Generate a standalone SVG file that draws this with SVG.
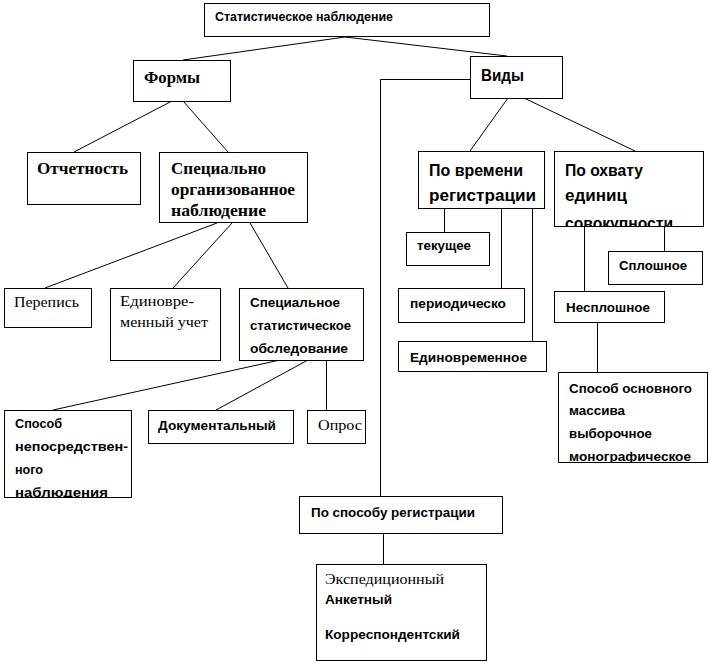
<svg xmlns="http://www.w3.org/2000/svg" width="709" height="663" viewBox="0 0 709 663">
<style>
.b{fill:#fff;stroke:#000;stroke-width:1}
.c line,.c polyline{stroke:#000;stroke-width:1;fill:none}
text{fill:#000}
.s{font-family:"Liberation Sans",Arial,sans-serif;font-weight:bold;font-size:12px}
.r{font-family:"Liberation Serif","Times New Roman",serif;font-size:15px}
.rb{font-family:"Liberation Serif","Times New Roman",serif;font-weight:bold;font-size:16px}
</style>
<defs>
<clipPath id="cl1"><rect x="554" y="151" width="149" height="75"/></clipPath>
<clipPath id="cl2"><rect x="4" y="410" width="127" height="87"/></clipPath>
<clipPath id="cl3"><rect x="558" y="372" width="149" height="90"/></clipPath>
</defs>
<rect width="709" height="663" fill="#fff"/>
<g class="c" id="connectors">
<polyline points="183,60 345,37 507,56"/>
<polyline points="470.5,79.5 380.5,79.5 380.5,496"/>
<line x1="172" y1="101" x2="74" y2="152"/>
<line x1="183" y1="101" x2="228" y2="152"/>
<line x1="217" y1="223" x2="45" y2="288"/>
<line x1="232" y1="223" x2="173" y2="288"/>
<line x1="250" y1="223" x2="288" y2="288"/>
<line x1="280" y1="360" x2="53" y2="410"/>
<line x1="308" y1="360" x2="216" y2="410"/>
<line x1="326.5" y1="360" x2="326.5" y2="410"/>
<line x1="508" y1="98" x2="470" y2="151"/>
<line x1="524" y1="98" x2="635" y2="151"/>
<line x1="444.5" y1="208" x2="444.5" y2="232"/>
<line x1="501.5" y1="208" x2="501.5" y2="288"/>
<line x1="532.5" y1="208" x2="532.5" y2="344"/>
<line x1="584.5" y1="226" x2="584.5" y2="291"/>
<line x1="664.5" y1="226" x2="664.5" y2="251"/>
<line x1="597.5" y1="322" x2="597.5" y2="372"/>
<line x1="383.5" y1="534" x2="383.5" y2="564"/>
</g>
<g id="n-root"><rect class="b" x="204.5" y="3.5" width="285" height="33"/><text class="s" x="215" y="21" textLength="178" lengthAdjust="spacingAndGlyphs">Статистическое наблюдение</text></g>
<g id="n-formy"><rect class="b" x="133.5" y="60.5" width="97" height="41"/><text class="rb" x="144" y="83" style="font-size:17px" textLength="56" lengthAdjust="spacingAndGlyphs">Формы</text></g>
<g id="n-vidy"><rect class="b" x="470.5" y="56.5" width="92" height="42"/><text class="s" x="481" y="81" style="font-size:17px" textLength="43" lengthAdjust="spacingAndGlyphs">Виды</text></g>
<g id="n-otch"><rect class="b" x="27.5" y="152.5" width="113" height="52"/><text class="rb" x="37" y="174" textLength="91" lengthAdjust="spacingAndGlyphs">Отчетность</text></g>
<g id="n-spec"><rect class="b" x="159.5" y="152.5" width="148" height="70"/>
<text class="rb" x="171" y="174" textLength="95" lengthAdjust="spacingAndGlyphs">Специально</text>
<text class="rb" x="171" y="195" textLength="124" lengthAdjust="spacingAndGlyphs">организованное</text>
<text class="rb" x="171" y="216" textLength="95" lengthAdjust="spacingAndGlyphs">наблюдение</text></g>
<g id="n-perepis"><rect class="b" x="4.5" y="288.5" width="87" height="39"/><text class="r" x="14" y="307" textLength="65" lengthAdjust="spacingAndGlyphs">Перепись</text></g>
<g id="n-edinuch"><rect class="b" x="110.5" y="288.5" width="110" height="72"/>
<text class="r" x="120" y="306" textLength="74" lengthAdjust="spacingAndGlyphs">Единовре-</text>
<text class="r" x="120" y="327" textLength="88" lengthAdjust="spacingAndGlyphs">менный учет</text></g>
<g id="n-sso"><rect class="b" x="239.5" y="288.5" width="124" height="72"/>
<text class="s" x="250" y="307" style="font-size:13px" textLength="90" lengthAdjust="spacingAndGlyphs">Специальное</text>
<text class="s" x="250" y="330" style="font-size:13px" textLength="101" lengthAdjust="spacingAndGlyphs">статистическое</text>
<text class="s" x="250" y="353" style="font-size:13px" textLength="98" lengthAdjust="spacingAndGlyphs">обследование</text></g>
<g id="n-sposnep"><rect class="b" x="4.5" y="410.5" width="127" height="87"/>
<g clip-path="url(#cl2)">
<text class="s" x="15" y="428" style="font-size:13px" textLength="47" lengthAdjust="spacingAndGlyphs">Способ</text>
<text class="s" x="15" y="451" style="font-size:13px" textLength="113" lengthAdjust="spacingAndGlyphs">непосредствен-</text>
<text class="s" x="15" y="474" style="font-size:13px" textLength="28" lengthAdjust="spacingAndGlyphs">ного</text>
<text class="s" x="15" y="497" style="font-size:13px" textLength="93" lengthAdjust="spacingAndGlyphs">наблюдения</text></g>
<line x1="4.5" y1="497.5" x2="131.5" y2="497.5" stroke="#000"/></g>
<g id="n-dok"><rect class="b" x="148.5" y="410.5" width="145" height="33"/><text class="s" x="158" y="430" style="font-size:13px" textLength="118" lengthAdjust="spacingAndGlyphs">Документальный</text></g>
<g id="n-opros"><rect class="b" x="307.5" y="410.5" width="58" height="33"/><text class="r" x="318" y="430" textLength="44" lengthAdjust="spacingAndGlyphs">Опрос</text></g>
<g id="n-povrem"><rect class="b" x="418.5" y="151.5" width="126" height="57"/>
<text class="s" x="429" y="176" style="font-size:16px" textLength="94" lengthAdjust="spacingAndGlyphs">По времени</text>
<text class="s" x="429" y="201" style="font-size:16px" textLength="107" lengthAdjust="spacingAndGlyphs">регистрации</text></g>
<g id="n-poohv"><rect class="b" x="554.5" y="151.5" width="149" height="75"/>
<g clip-path="url(#cl1)">
<text class="s" x="565" y="176" style="font-size:16px" textLength="78" lengthAdjust="spacingAndGlyphs">По охвату</text>
<text class="s" x="565" y="201" style="font-size:16px" textLength="62" lengthAdjust="spacingAndGlyphs">единиц</text>
<text class="s" x="565" y="229" style="font-size:16px" textLength="108" lengthAdjust="spacingAndGlyphs">совокупности</text></g>
<line x1="554.5" y1="226.5" x2="703.5" y2="226.5" stroke="#000"/></g>
<g id="n-tek"><rect class="b" x="406.5" y="232.5" width="83" height="33"/><text class="s" x="417" y="250" textLength="54" lengthAdjust="spacingAndGlyphs">текущее</text></g>
<g id="n-period"><rect class="b" x="398.5" y="288.5" width="126" height="34"/><text class="s" x="410" y="308" textLength="96" lengthAdjust="spacingAndGlyphs">периодическо</text></g>
<g id="n-edinovr"><rect class="b" x="398.5" y="341.5" width="148" height="30"/><text class="s" x="410" y="362" textLength="117" lengthAdjust="spacingAndGlyphs">Единовременное</text></g>
<g id="n-splosh"><rect class="b" x="608.5" y="251.5" width="94" height="33"/><text class="s" x="619" y="270" textLength="68" lengthAdjust="spacingAndGlyphs">Сплошное</text></g>
<g id="n-nesplosh"><rect class="b" x="554.5" y="291.5" width="110" height="31"/><text class="s" x="566" y="312" textLength="84" lengthAdjust="spacingAndGlyphs">Несплошное</text></g>
<g id="n-sposobosn"><rect class="b" x="558.5" y="372.5" width="149" height="90"/>
<g clip-path="url(#cl3)">
<text class="s" x="569" y="393" textLength="123" lengthAdjust="spacingAndGlyphs">Способ основного</text>
<text class="s" x="569" y="415" textLength="56" lengthAdjust="spacingAndGlyphs">массива</text>
<text class="s" x="569" y="438" textLength="83" lengthAdjust="spacingAndGlyphs">выборочное</text>
<text class="s" x="569" y="461" textLength="122" lengthAdjust="spacingAndGlyphs">монографическое</text></g>
<line x1="558.5" y1="462.5" x2="707.5" y2="462.5" stroke="#000"/></g>
<g id="n-posposob"><rect class="b" x="299.5" y="496.5" width="203" height="37"/><text class="s" x="311" y="517" textLength="164" lengthAdjust="spacingAndGlyphs">По способу регистрации</text></g>
<g id="n-eksp"><rect class="b" x="316.5" y="564.5" width="170" height="96"/>
<text class="r" x="325" y="584" style="font-size:14px" textLength="119" lengthAdjust="spacingAndGlyphs">Экспедиционный</text>
<text class="s" x="325" y="604" textLength="67" lengthAdjust="spacingAndGlyphs">Анкетный</text>
<text class="s" x="325" y="639" textLength="135" lengthAdjust="spacingAndGlyphs">Корреспондентский</text></g>
</svg>
